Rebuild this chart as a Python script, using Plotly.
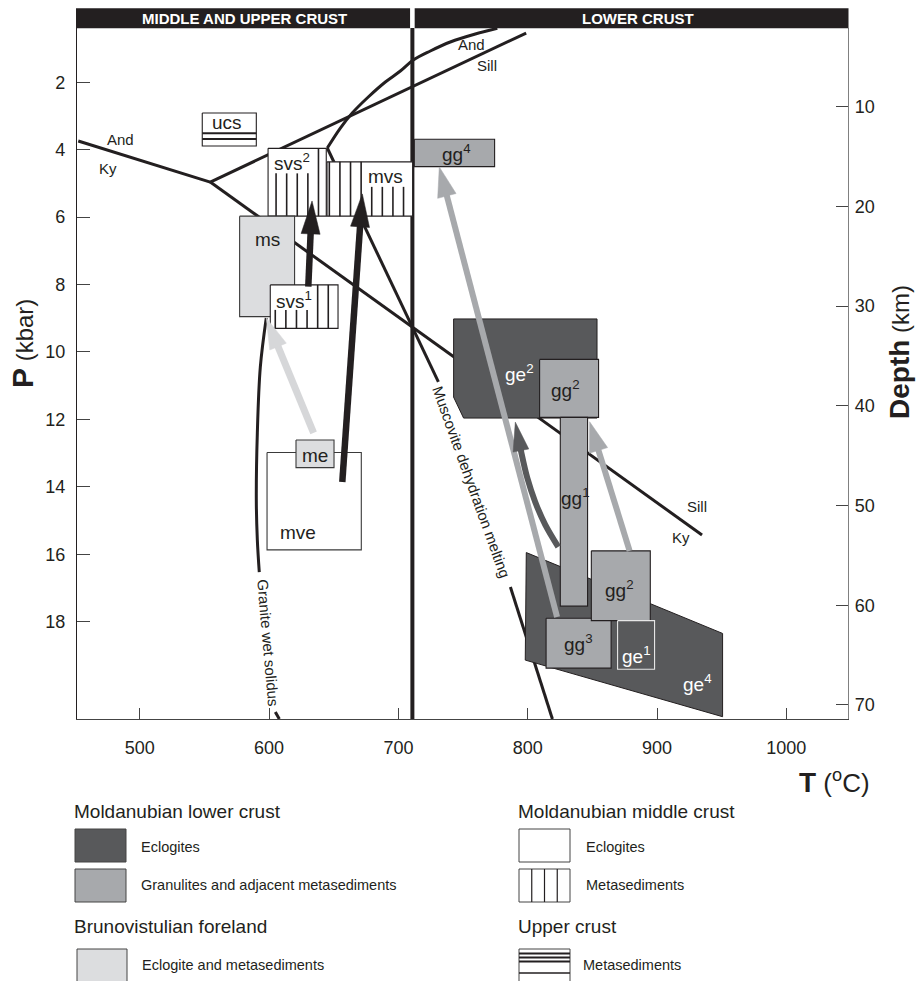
import math
import plotly.graph_objects as go

# ---------------- axis ticks ----------------
T_TICKS = [500, 600, 700, 800, 900, 1000]
P_TICKS = [2, 4, 6, 8, 10, 12, 14, 16, 18]
DEPTH_TICKS = [10, 20, 30, 40, 50, 60, 70]

# ---------------- reaction curves (T in degC, P in kbar) ----------------
AND_KY_T = [452.4, 554.5]
AND_KY_P = [3.74, 4.96]
AND_SILL_T = [554.5, 798.8]
AND_SILL_P = [4.96, 0.54]
KY_SILL_T = [554.5, 934.8]
KY_SILL_P = [4.96, 15.43]

MUSC_CURVE_T = [776.5, 759.5, 740.1, 724.7, 711.5, 701.5, 689.9, 676.7, 664.3, 655.1, 645.0]
MUSC_CURVE_P = [0.40, 0.567, 0.805, 1.071, 1.338, 1.665, 1.991, 2.436, 2.911, 3.356, 3.949]
MUSC_LINE_T = [645.0, 730.9]
MUSC_LINE_P = [3.949, 10.89]
MUSC_LOW_T = [786.6, 819.1]
MUSC_LOW_P = [16.97, 20.89]

SOLIDUS_T = [597.8, 593.2, 590.9, 590.1, 590.9, 592.4]
SOLIDUS_P = [8.99, 10.45, 12.40, 14.39, 15.58, 16.53]
SOLIDUS_LOW_T = [604.8, 607.9]
SOLIDUS_LOW_P = [20.68, 20.89]

CRUST_BOUNDARY_T = 710.8

# ---------------- P-T fields ----------------
GE4_T = [798.9, 950.7, 950.7, 798.1]
GE4_P = [15.95, 18.35, 20.82, 19.14]
GE2_T = [742.7, 853.6, 853.6, 750.4, 742.7]
GE2_P = [9.02, 9.02, 11.96, 11.96, 11.34]

BOX_NAME = ["ucs", "svs2", "mvs", "ms", "svs1", "mve", "me",
            "gg2a", "gg1", "gg3", "gg2b", "ge1", "gg4"]
BOX_UNIT = ["upper", "mid_meta", "mid_meta", "bruno", "mid_meta", "mid_ecl", "bruno",
            "gran", "gran", "gran", "gran", "ecl_light", "gran"]
BOX_TMIN = [548.3, 599.2, 644.8, 577.2, 600.9, 598.4, 620.8,
            809.2, 825.2, 814.2, 849.2, 869.5, 712.3]
BOX_TMAX = [590.1, 644.2, 711.0, 619.7, 653.3, 671.3, 650.2,
            854.8, 846.3, 864.5, 894.8, 898.1, 774.4]
BOX_PMIN = [2.91, 3.96, 4.36, 5.97, 8.01, 12.98, 12.61,
            10.22, 11.94, 17.90, 15.90, 17.97, 3.69]
BOX_PMAX = [3.89, 5.97, 5.97, 8.95, 9.30, 15.87, 13.43,
            11.94, 17.54, 19.38, 17.97, 19.41, 4.50]

# ---------------- field labels ----------------
LABEL_TEXT = ["ucs", "svs<sup>2</sup>", "mvs", "ms", "svs<sup>1</sup>", "mve", "me",
              "ge<sup>2</sup>", "gg<sup>2</sup>", "gg<sup>1</sup>", "gg<sup>2</sup>",
              "gg<sup>3</sup>", "ge<sup>1</sup>", "ge<sup>4</sup>", "gg<sup>4</sup>"]
LABEL_T = [567.4, 617.7, 690.1, 598.6, 619.5, 622.6, 635.7,
           793.5, 829.1, 836.6, 870.8, 839.4, 883.8, 931.6, 744.6]
LABEL_P = [3.20, 4.36, 4.80, 6.66, 8.46, 15.37, 13.06,
           10.63, 11.11, 14.29, 17.04, 18.64, 18.99, 19.81, 4.11]
LABEL_WHITE = [False, False, False, False, False, False, False,
               True, False, False, False, False, True, True, False]

PHASE_TEXT = ["And", "Ky", "And", "Sill", "Sill", "Ky"]
PHASE_T = [484.9, 475.3, 756.9, 768.5, 930.9, 918.6]
PHASE_P = [3.71, 4.55, 0.89, 1.49, 14.59, 15.50]

CURVE_TEXT = ["Muscovite dehydration melting", "Granite wet solidus"]
CURVE_T = [756.2, 599.0]
CURVE_P = [13.85, 18.63]
CURVE_ANGLE = [70.2, 85.0]

# ---------------- P-T paths (arrows) ----------------
ARROW_T = [[822.7, 731.6],
           [823.6, 813.5, 805.8, 799.7, 795.0, 790.4],
           [878.8, 847.9],
           [634.4, 597.8],
           [656.6, 672.1],
           [630.3, 633.2]]
ARROW_P = [[17.86, 4.51],
           [15.78, 15.12, 14.45, 13.74, 12.97, 12.08],
           [15.90, 12.07],
           [12.40, 8.99],
           [13.86, 5.31],
           [8.06, 5.52]]
ARROW_KIND = ["gran", "ecl", "gran", "bruno", "mid", "mid"]

# ---------------- layout / style ----------------
W, H = 916, 981
ML, MR, MT, MB = 77, 68, 28, 262
PW, PH = W - ML - MR, H - MT - MB
T_RANGE = [451.43, 1047.7]
P_RANGE = [20.888, 0.389]
D_RANGE = [71.405, 2.106]

INK = "#231f20"
DARK = "#58595b"
MID = "#a7a9ac"
LIGHT = "#dcdddf"
FONT = "Liberation Sans, Arial, sans-serif"

UNIT_STYLE = {
    "upper": ("white", INK),
    "mid_meta": ("white", INK),
    "mid_ecl": ("white", "#3a3a3a"),
    "bruno": (LIGHT, "#3a3a3a"),
    "gran": (MID, INK),
    "ecl": (DARK, INK),
    "ecl_light": (DARK, "#e6e6e6"),
}
ARROW_STYLE = {  # color, shaft width, head length, head width (px)
    "gran": (MID, 6, 30, 19),
    "ecl": (DARK, 6, 29, 16),
    "bruno": ("#d6d7d9", 7, 31, 18),
    "mid": (INK, 6.5, 33, 19),
}
HATCH = {  # first line offset px, text band (px from left)
    "svs2": (8.0, (0, 46)),
    "mvs": (2.3, (39, 95)),
    "svs1": (5.0, (0, 45)),
}
HATCH_STEP = 10.6
HATCH_BAND_H = 25


def to_px(T, P):
    return ((T - T_RANGE[0]) / (T_RANGE[1] - T_RANGE[0]) * PW,
            (P - P_RANGE[1]) / (P_RANGE[0] - P_RANGE[1]) * PH)


def from_px(x, y):
    return (T_RANGE[0] + x / PW * (T_RANGE[1] - T_RANGE[0]),
            P_RANGE[1] + y / PH * (P_RANGE[0] - P_RANGE[1]))


def paper(xp, yp):
    return (xp - ML) / PW, (MT + PH - yp) / PH


fig = go.Figure()


def line(xs, ys, color=INK, width=3, shape="linear"):
    fig.add_trace(go.Scatter(x=xs, y=ys, mode="lines",
                             line=dict(color=color, width=width, shape=shape),
                             hoverinfo="skip", showlegend=False))


def poly(xs, ys, fill, edge, width=1):
    fig.add_trace(go.Scatter(x=list(xs) + [xs[0]], y=list(ys) + [ys[0]], mode="lines",
                             fill="toself", fillcolor=fill,
                             line=dict(color=edge, width=width),
                             hoverinfo="skip", showlegend=False))


# reaction lines
line(AND_KY_T, AND_KY_P)
line(AND_SILL_T, AND_SILL_P)
line(KY_SILL_T, KY_SILL_P)
line(MUSC_CURVE_T, MUSC_CURVE_P, shape="spline")
line(MUSC_LINE_T, MUSC_LINE_P)
line(MUSC_LOW_T, MUSC_LOW_P)
line(SOLIDUS_T, SOLIDUS_P, shape="spline")
line(SOLIDUS_LOW_T, SOLIDUS_LOW_P)
line([CRUST_BOUNDARY_T, CRUST_BOUNDARY_T], [P_RANGE[1], P_RANGE[0]], width=4)

# lower-crust eclogite polygons
poly(GE4_T, GE4_P, DARK, INK)
poly(GE2_T, GE2_P, DARK, INK)

# rectangular fields
for name, unit, t0, t1, p0, p1 in zip(BOX_NAME, BOX_UNIT, BOX_TMIN, BOX_TMAX, BOX_PMIN, BOX_PMAX):
    fill, edge = UNIT_STYLE[unit]
    poly([t0, t1, t1, t0], [p0, p0, p1, p1], fill, edge, 1.1)
    x0, y0 = to_px(t0, p0)
    x1, y1 = to_px(t1, p1)
    if unit == "upper":
        hx, hy = [], []
        for f in (0.61, 0.79):
            yy = y0 + f * (y1 - y0)
            a = from_px(x0, yy)
            b = from_px(x1, yy)
            hx += [a[0], b[0], None]
            hy += [a[1], b[1], None]
        line(hx, hy, INK, 2)
    if name in HATCH:
        first, band = HATCH[name]
        hx, hy = [], []
        off = first
        while off < (x1 - x0) - 2.5:
            top = y0 + HATCH_BAND_H if band[0] <= off <= band[1] else y0
            a = from_px(x0 + off, top)
            b = from_px(x0 + off, y1)
            hx += [a[0], b[0], None]
            hy += [a[1], b[1], None]
            off += HATCH_STEP
        line(hx, hy, INK, 1.6)


# arrows
def add_arrow(Ts, Ps, kind):
    color, w, hl, hw = ARROW_STYLE[kind]
    pts = [to_px(t, p) for t, p in zip(Ts, Ps)]
    tip, prev = pts[-1], pts[-2]
    dx, dy = tip[0] - prev[0], tip[1] - prev[1]
    n = math.hypot(dx, dy)
    ux, uy = dx / n, dy / n
    base = (tip[0] - ux * hl, tip[1] - uy * hl)
    shaft = [p for p in pts[:-1] if math.hypot(tip[0] - p[0], tip[1] - p[1]) > hl + 1]
    shaft.append((base[0] + ux * 3, base[1] + uy * 3))
    sx, sy = zip(*[from_px(*p) for p in shaft])
    line(list(sx), list(sy), color, w, "spline" if len(shaft) > 2 else "linear")
    qx, qy = -uy, ux
    tri = [tip, (base[0] + qx * hw / 2, base[1] + qy * hw / 2),
           (base[0] - qx * hw / 2, base[1] - qy * hw / 2)]
    tx, ty = zip(*[from_px(*p) for p in tri])
    poly(list(tx), list(ty), color, color, 0.5)


for Ts, Ps, kind in zip(ARROW_T, ARROW_P, ARROW_KIND):
    add_arrow(Ts, Ps, kind)

# invisible trace to anchor the depth axis
fig.add_trace(go.Scatter(x=[T_RANGE[0]] * len(DEPTH_TICKS), y=DEPTH_TICKS, yaxis="y2",
                         mode="markers", marker=dict(opacity=0), hoverinfo="skip",
                         showlegend=False))

ann = []
for txt, t, p, white in zip(LABEL_TEXT, LABEL_T, LABEL_P, LABEL_WHITE):
    ann.append(dict(x=t, y=p, xref="x", yref="y", text=txt, showarrow=False,
                    xanchor="center", yanchor="middle",
                    font=dict(family=FONT, size=19, color="white" if white else INK)))
for txt, t, p in zip(PHASE_TEXT, PHASE_T, PHASE_P):
    ann.append(dict(x=t, y=p, xref="x", yref="y", text=txt, showarrow=False,
                    xanchor="center", yanchor="middle",
                    font=dict(family=FONT, size=15, color=INK)))
for txt, t, p, a in zip(CURVE_TEXT, CURVE_T, CURVE_P, CURVE_ANGLE):
    ann.append(dict(x=t, y=p, xref="x", yref="y", text=txt, showarrow=False, textangle=a,
                    xanchor="center", yanchor="middle",
                    font=dict(family=FONT, size=15, color=INK)))

shapes = []
# header bar
bx, _ = to_px(CRUST_BOUNDARY_T, 0)
gap_l, gap_r = ML + bx - 2.3, ML + bx + 2.3
for xa, xb in ((76, gap_l), (gap_r, 848.5)):
    a = paper(xa, 8.3)
    b = paper(xb, 28.3)
    shapes.append(dict(type="rect", xref="paper", yref="paper", x0=a[0], x1=b[0], y0=b[1], y1=a[1],
                       fillcolor=INK, line=dict(width=0), layer="above"))


def ctext(xp, yp, txt, size, color=INK, angle=0):
    c = paper(xp, yp)
    ann.append(dict(x=c[0], y=c[1], xref="paper", yref="paper", text=txt, showarrow=False,
                    xanchor="center", yanchor="middle", textangle=angle,
                    font=dict(family=FONT, size=size, color=color)))


ctext(244, 18.5, "<b>MIDDLE AND UPPER CRUST</b>", 15, "white")
ctext(637.5, 18.5, "<b>LOWER CRUST</b>", 15, "white")

# axis titles
ctext(22, 344, '<span style="font-size:30px"><b>P</b></span> (kbar)', 24, angle=-90)
ctext(899, 352, '<span style="font-size:28px"><b>Depth</b></span> (km)', 24, angle=-90)
ctext(834, 781, '<span style="font-size:28px"><b>T</b></span> (<sup>o</sup>C)', 26)


# legend
def rect_px(x0, y0, x1, y1, fill, edge="#444444"):
    a = paper(x0, y0)
    b = paper(x1, y1)
    shapes.append(dict(type="rect", xref="paper", yref="paper", x0=a[0], x1=b[0], y0=b[1], y1=a[1],
                       fillcolor=fill, line=dict(color=edge, width=1)))


def seg_px(x0, y0, x1, y1, w=1.2, color=INK):
    a = paper(x0, y0)
    b = paper(x1, y1)
    shapes.append(dict(type="line", xref="paper", yref="paper", x0=a[0], x1=b[0], y0=a[1], y1=b[1],
                       line=dict(color=color, width=w)))


def text_px(x, y, txt, size):
    c = paper(x, y)
    ann.append(dict(x=c[0], y=c[1], xref="paper", yref="paper", text=txt, showarrow=False,
                    xanchor="left", yanchor="middle", font=dict(family=FONT, size=size, color=INK)))


text_px(72, 811, "Moldanubian lower crust", 19)
rect_px(75, 829, 126, 862, DARK)
text_px(139, 847, "Eclogites", 14.5)
rect_px(75, 869, 126, 902, MID)
text_px(139, 885, "Granulites and adjacent metasediments", 14.5)
text_px(72, 926, "Brunovistulian foreland", 19)
rect_px(77, 949, 127, 990, LIGHT)
text_px(140, 965, "Eclogite and metasediments", 14.5)

text_px(516, 811, "Moldanubian middle crust", 19)
rect_px(519, 829, 570, 862, "white")
text_px(584, 847, "Eclogites", 14.5)
rect_px(519, 869, 570, 902, "white")
for k in range(1, 4):
    xk = 519 + k * (570 - 519) / 4
    seg_px(xk, 869, xk, 902, 1.2)
text_px(584, 885, "Metasediments", 14.5)
text_px(516, 926, "Upper crust", 19)
rect_px(519, 949, 570, 990, "white")
for yk, wk in ((953.5, 2), (957.5, 2), (961.5, 2), (973, 1.5)):
    seg_px(519, yk, 570, yk, wk)
text_px(581, 965, "Metasediments", 14.5)

axis_font = dict(family=FONT, size=18, color=INK)
fig.update_layout(
    width=W, height=H, autosize=False,
    margin=dict(l=ML, r=MR, t=MT, b=MB, pad=0),
    paper_bgcolor="white", plot_bgcolor="white",
    showlegend=False,
    xaxis=dict(range=T_RANGE, tickvals=T_TICKS, ticks="inside", ticklen=11, tickwidth=1,
               tickcolor="#444444", showline=True, linecolor="#444444", linewidth=1.2,
               showgrid=False, zeroline=False, tickfont=axis_font, ticklabelstandoff=12),
    yaxis=dict(range=P_RANGE, tickvals=P_TICKS, ticks="inside", ticklen=13, tickwidth=1,
               tickcolor="#444444", showline=True, linecolor=INK, linewidth=1.2,
               showgrid=False, zeroline=False, tickfont=axis_font, ticklabelstandoff=7),
    yaxis2=dict(range=D_RANGE, tickvals=DEPTH_TICKS, overlaying="y", side="right", anchor="x",
                ticks="inside", ticklen=12, tickwidth=1, tickcolor="#444444",
                showline=True, linecolor="#808080", linewidth=1.2,
                showgrid=False, zeroline=False, tickfont=axis_font, ticklabelstandoff=2),
    annotations=ann,
    shapes=shapes,
)

fig.write_html("out.html", config={"displayModeBar": False, "staticPlot": True},
               post_script="document.body.style.margin='0px';document.body.style.overflow='hidden';")
